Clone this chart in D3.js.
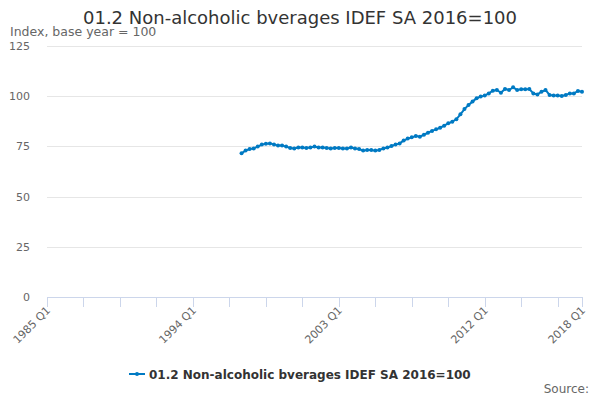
<!DOCTYPE html>
<html>
<head>
<meta charset="utf-8">
<script src="https://cdn.jsdelivr.net/npm/d3@7.9.0/dist/d3.min.js"></script>
<style>
  body { margin: 0; background: #fff; }
  svg { font-family: "DejaVu Sans", sans-serif; }
</style>
</head>
<body>
<svg id="chart" width="600" height="400"></svg>
<script>
// Series: quarterly index, 1997 Q1 .. 2018 Q1
const firstYear = 1997;
const values = [
  71.6, 72.9, 73.7, 74.0, 74.9, 75.9, 76.3, 76.5, 76.0, 75.4,
  75.5, 74.9, 74.2, 74.0, 74.4, 74.4, 74.2, 74.4, 74.9, 74.4,
  74.4, 74.2, 74.0, 74.2, 74.2, 74.0, 74.0, 74.4, 74.0, 73.7,
  72.9, 73.2, 73.2, 72.9, 73.2, 74.0, 74.4, 75.2, 75.9, 76.5,
  77.9, 78.9, 79.5, 80.2, 79.8, 80.8, 81.8, 82.7, 83.5, 84.3,
  85.3, 86.5, 87.3, 88.5, 91.0, 93.6, 95.6, 97.3, 99.0, 99.8,
  100.3, 101.4, 102.7, 103.1, 101.7, 103.6, 103.1, 104.4, 103.1, 103.4,
  103.4, 103.6, 101.4, 100.9, 102.2, 103.1, 100.6, 100.3, 100.3, 100.1,
  100.6, 101.4, 101.4, 102.6, 102.2
];
const yTicks = [0, 25, 50, 75, 100, 125];
const xLabelQuarters = ["1985 Q1", "1994 Q1", "2003 Q1", "2012 Q1", "2018 Q1"];

const titleText = "01.2 Non-alcoholic bverages IDEF SA 2016=100";
const seriesName = "01.2 Non-alcoholic bverages IDEF SA 2016=100";

// quarter index counted from 1985 Q1
const qIndex = s => { const [yr, q] = s.split(" Q"); return (+yr - 1985) * 4 + (+q - 1); };
const data = values.map((v, i) => ({ q: (firstYear - 1985) * 4 + i, v }));

const svg = d3.select("#chart");
const plotLeft = 47, plotRight = 582, plotTop = 46, plotBottom = 297;
const lineColor = "#007ac3";

const x = d3.scaleLinear().domain([0, qIndex("2018 Q1")]).range([plotLeft, plotRight]);
const y = d3.scaleLinear().domain([0, 125]).range([plotBottom, plotTop]);

// title + subtitle
svg.append("text").attr("x", 300).attr("y", 24).attr("text-anchor", "middle")
  .attr("font-size", 18).attr("fill", "#333").text(titleText);
svg.append("text").attr("x", 10).attr("y", 36)
  .attr("font-size", 12.5).attr("fill", "#666").text("Index, base year = 100");

// y grid + labels
const yAxis = svg.append("g");
yAxis.selectAll("line").data(yTicks.filter(t => t > 0)).join("line")
  .attr("x1", plotLeft).attr("x2", plotRight)
  .attr("y1", d => Math.round(y(d)) + 0.5).attr("y2", d => Math.round(y(d)) + 0.5)
  .attr("stroke", "#e6e6e6");
yAxis.selectAll("text").data(yTicks).join("text")
  .attr("x", 30).attr("y", d => y(d) + 4).attr("text-anchor", "end")
  .attr("font-size", 11).attr("fill", "#666").text(d => d);

// x axis: tick every 9 quarters plus final
const lastQ = qIndex("2018 Q1");
const xTickVals = d3.range(0, lastQ, 9).concat([lastQ]);
const xg = svg.append("g");
xg.append("line").attr("x1", plotLeft).attr("x2", plotRight)
  .attr("y1", plotBottom + 0.5).attr("y2", plotBottom + 0.5).attr("stroke", "#ccd6eb");
xg.selectAll("line.tick").data(xTickVals).join("line").attr("class", "tick")
  .attr("x1", d => Math.round(x(d)) + 0.5).attr("x2", d => Math.round(x(d)) + 0.5)
  .attr("y1", plotBottom).attr("y2", plotBottom + 10).attr("stroke", "#ccd6eb");
xg.selectAll("text").data(xLabelQuarters).join("text")
  .attr("transform", d => `translate(${x(qIndex(d)) + 4},${plotBottom + 14}) rotate(-45)`)
  .attr("text-anchor", "end").attr("font-size", 11).attr("fill", "#666").text(d => d);

// line + markers
const line = d3.line().x(d => x(d.q)).y(d => y(d.v));
svg.append("path").datum(data).attr("d", line)
  .attr("fill", "none").attr("stroke", lineColor).attr("stroke-width", 2);
svg.append("g").selectAll("circle").data(data).join("circle")
  .attr("cx", d => x(d.q)).attr("cy", d => y(d.v)).attr("r", 2)
  .attr("fill", lineColor);

// legend
const lg = svg.append("g").attr("transform", "translate(129,374)");
lg.append("line").attr("x1", 0).attr("x2", 16).attr("y1", 0).attr("y2", 0)
  .attr("stroke", lineColor).attr("stroke-width", 2);
lg.append("circle").attr("cx", 8).attr("cy", 0).attr("r", 2).attr("fill", lineColor);
lg.append("text").attr("x", 20).attr("y", 4.5).attr("font-size", 12)
  .attr("font-weight", "bold").attr("fill", "#333").text(seriesName);

// source
svg.append("text").attr("x", 589).attr("y", 393).attr("text-anchor", "end")
  .attr("font-size", 12).attr("fill", "#666").text("Source:");
</script>
</body>
</html>
